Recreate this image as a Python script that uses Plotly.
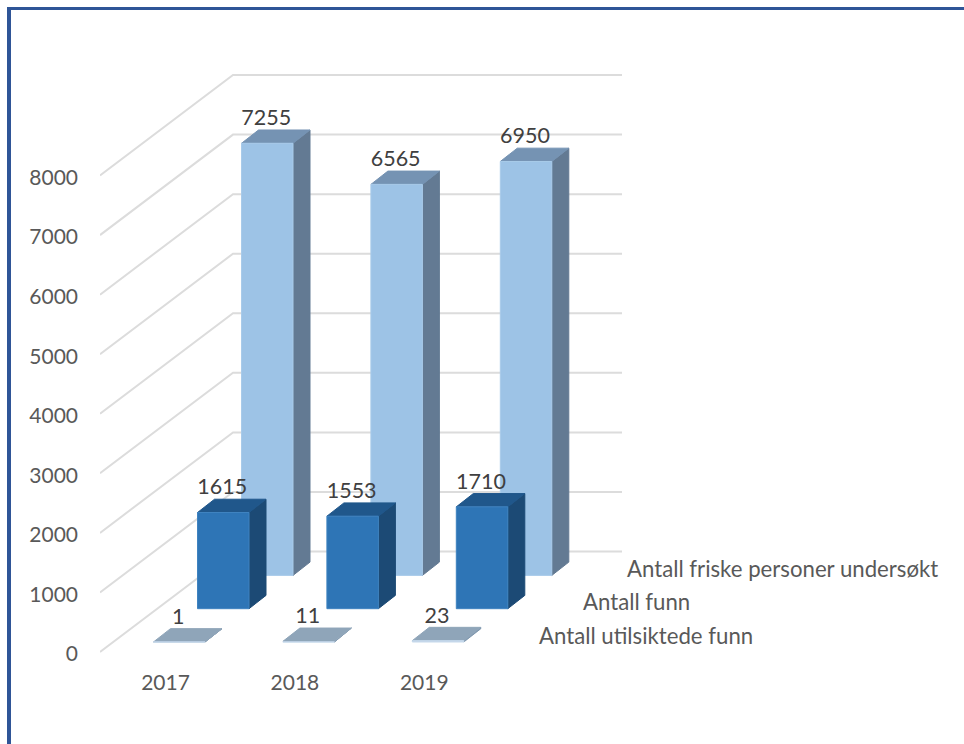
import plotly.graph_objects as go

# Chart data
years = ["2017", "2018", "2019"]
series_names = ["Antall utilsiktede funn", "Antall funn", "Antall friske personer undersøkt"]
utilsiktede = [1, 11, 23]
funn = [1615, 1553, 1710]
friske = [7255, 6565, 6950]
y_ticks = [0, 1000, 2000, 3000, 4000, 5000, 6000, 7000, 8000]

# Oblique projection: depth is expressed in x units and in axis values
PX_PER_VALUE = 0.05956
ZERO_PX = 652
PLOT_LEFT, PLOT_BOTTOM = 100, 668
WIDTH, HEIGHT = 964, 744
WALL_DX, WALL_DV = 133, 100.5 / PX_PER_VALUE
ROW_DX, ROW_DV = 44, 33.3 / PX_PER_VALUE
BAR_W, BAR_DX, BAR_DV = 51.5, 17, 13.3 / PX_PER_VALUE
FIRST_BAR_X, CATEGORY_STEP = 153.5, 129.4
FLOOR_V = 10 / PX_PER_VALUE
WALL_RIGHT = 622
LABEL_GAP = 23.5 / PX_PER_VALUE

# (front, side, top, edge) colours for each depth row, front row first
row_colours = [
    ("#c5d6e8", "#7f97ae", "#8fa5b9", "#c5d9ec"),
    ("#2e75b6", "#1c4a75", "#20578b", "#3f83c0"),
    ("#9dc3e6", "#637a93", "#7593b3", "#a9cbea"),
]
row_values = [utilsiktede, funn, friske]

fig = go.Figure()


def polygon(xs, ys, fill, edge):
    fig.add_trace(go.Scatter(
        x=xs + xs[:1], y=ys + ys[:1], mode="lines", fill="toself", fillcolor=fill,
        line=dict(color=edge, width=1), hoverinfo="skip", showlegend=False,
    ))


# Gridlines run along the left wall, then across the back wall
for v in y_ticks:
    fig.add_trace(go.Scatter(
        x=[PLOT_LEFT, PLOT_LEFT + WALL_DX, WALL_RIGHT],
        y=[v, v + WALL_DV, v + WALL_DV],
        mode="lines", line=dict(color="#dcdcdc", width=2),
        hoverinfo="skip", showlegend=False,
    ))

# Back rows are painted first so the nearer bars overlap them
label_x, label_y, label_text = [], [], []
for row in (2, 1, 0):
    front, side, top, edge = row_colours[row]
    for i, value in enumerate(row_values[row]):
        x0 = FIRST_BAR_X + i * CATEGORY_STEP + row * ROW_DX
        x1 = x0 + BAR_W
        base = FLOOR_V + row * ROW_DV
        peak = base + value
        polygon([x1, x1 + BAR_DX, x1 + BAR_DX, x1],
                [base, base + BAR_DV, peak + BAR_DV, peak], side, side)
        polygon([x0, x1, x1 + BAR_DX, x0 + BAR_DX],
                [peak, peak, peak + BAR_DV, peak + BAR_DV], top, top)
        polygon([x0, x1, x1, x0], [base, base, peak, peak], front, edge)
        label_x.append((x0 + x1) / 2 - 1)
        label_y.append(peak + LABEL_GAP)
        label_text.append(str(value))

# Value labels sit above each bar
fig.add_trace(go.Scatter(
    x=label_x, y=label_y, text=label_text, mode="text", textposition="middle center",
    textfont=dict(family="Lato", size=21.5, color="#404040"),
    hoverinfo="skip", showlegend=False, cliponaxis=False,
))

# Series names line up with their depth rows at the right of the floor
for row, name in enumerate(series_names):
    fig.add_annotation(
        x=537 + row * ROW_DX, y=FLOOR_V + row * ROW_DV, text=name, showarrow=False,
        xanchor="left", yanchor="middle", yshift=7,
        font=dict(family="Lato", size=22.2, color="#595959"),
    )


def paper_x(px):
    return (px - PLOT_LEFT) / (WIDTH - PLOT_LEFT)


def paper_y(px):
    return (PLOT_BOTTOM - px) / PLOT_BOTTOM


# Blue frame along the top and left edges of the page
fig.add_shape(type="line", xref="paper", yref="paper", line=dict(color="#2f5597", width=3),
              x0=paper_x(7), x1=paper_x(964), y0=paper_y(8.5), y1=paper_y(8.5))
fig.add_shape(type="line", xref="paper", yref="paper", line=dict(color="#2f5597", width=4),
              x0=paper_x(9), x1=paper_x(9), y0=paper_y(7), y1=paper_y(744))

fig.update_layout(
    width=WIDTH, height=HEIGHT, margin=dict(l=PLOT_LEFT, r=0, t=0, b=HEIGHT - PLOT_BOTTOM),
    paper_bgcolor="white", plot_bgcolor="white", showlegend=False,
    font=dict(family="Lato", color="#595959"),
    xaxis=dict(
        range=[PLOT_LEFT, WIDTH], showgrid=False, zeroline=False, showline=False, ticks="",
        tickmode="array",
        tickvals=[FIRST_BAR_X + 12 + i * CATEGORY_STEP for i in range(len(years))],
        ticktext=years, tickfont=dict(family="Lato", size=21, color="#595959"),
    ),
    yaxis=dict(
        range=[(ZERO_PX - PLOT_BOTTOM) / PX_PER_VALUE, ZERO_PX / PX_PER_VALUE],
        showgrid=False, zeroline=False, showline=False, ticks="",
        tickmode="array", tickvals=y_ticks, ticktext=[str(v) for v in y_ticks],
        ticklabelstandoff=21, ticklabelshift=2,
        tickfont=dict(family="Lato", size=21, color="#595959"),
    ),
)

fig.write_html("out.html")
